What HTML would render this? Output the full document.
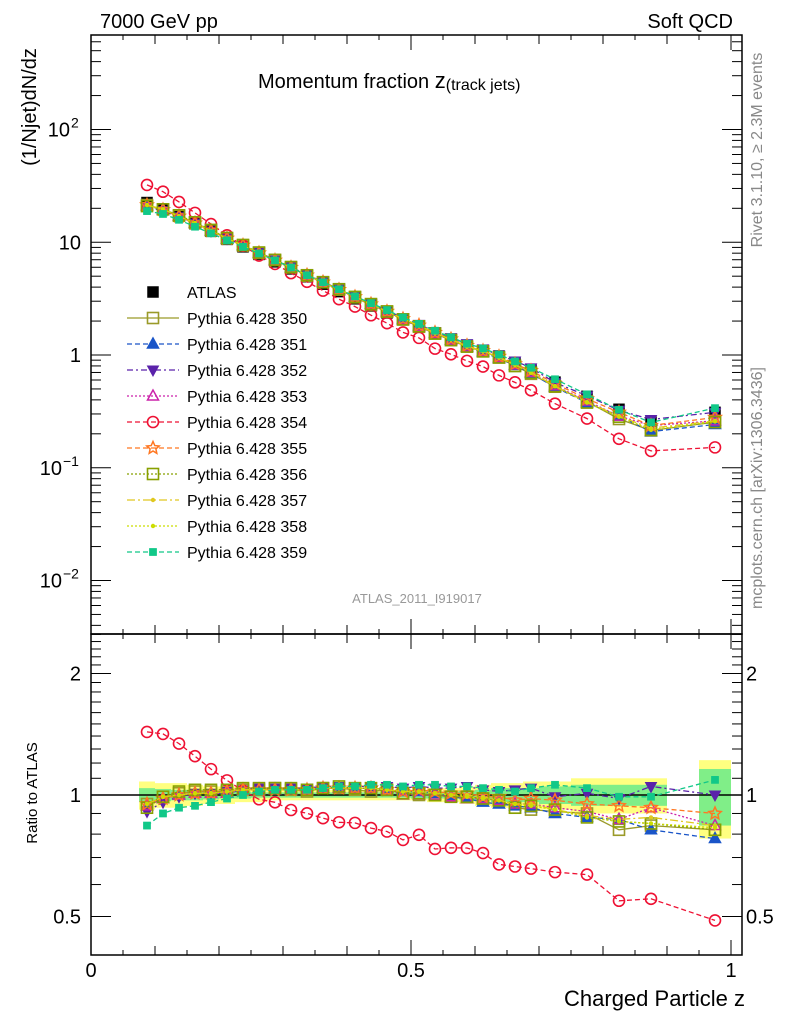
<!DOCTYPE html>
<html><head><meta charset="utf-8">
<style>
html,body{margin:0;padding:0;background:#fff;}
svg{display:block;font-family:"Liberation Sans",Arial,sans-serif;}
</style></head>
<body>
<svg id="chart" width="786" height="1024" viewBox="0 0 786 1024" xmlns="http://www.w3.org/2000/svg">
<defs>
<clipPath id="clipMain"><rect x="91" y="35" width="651" height="599"/></clipPath>
<clipPath id="clipRatio"><rect x="91" y="634" width="651" height="321"/></clipPath>
</defs>
<text x="100" y="28" font-size="20">7000 GeV pp</text>
<text x="733" y="28" font-size="20" text-anchor="end">Soft QCD</text>
<text x="258" y="88" font-size="20">Momentum fraction <tspan font-size="22">z</tspan><tspan font-size="16" dy="2">(track jets)</tspan></text>
<text x="417" y="603" font-size="13" fill="#999" text-anchor="middle">ATLAS_2011_I919017</text>
<text transform="translate(762,150) rotate(-90)" font-size="16" fill="#888" text-anchor="middle">Rivet 3.1.10, ≥ 2.3M events</text>
<text transform="translate(762,488) rotate(-90)" font-size="16" fill="#888" text-anchor="middle">mcplots.cern.ch [arXiv:1306.3436]</text>
<text transform="translate(36,107) rotate(-90)" font-size="20" text-anchor="middle">(1/Njet)dN/dz</text>
<text transform="translate(37,793) rotate(-90)" font-size="15" text-anchor="middle">Ratio to ATLAS</text>
<text x="745" y="1006" font-size="22" text-anchor="end">Charged Particle z</text>
<g id="axes"></g>
<g id="bands" clip-path="url(#clipRatio)"></g>
<g id="mainMarks" clip-path="url(#clipMain)"></g>
<g id="ratioMarks" clip-path="url(#clipRatio)"></g>
<g id="legend"></g>
<rect x="91" y="35" width="651" height="599" fill="none" stroke="#000" stroke-width="1.5"/>
<rect x="91" y="634" width="651" height="321" fill="none" stroke="#000" stroke-width="1.5"/>
</svg>
<script>
const zCenters = [0.0875,0.1125,0.1375,0.1625,0.1875,0.2125,0.2375,0.2625,0.2875,0.3125,0.3375,0.3625,0.3875,0.4125,0.4375,0.4625,0.4875,0.5125,0.5375,0.5625,0.5875,0.6125,0.6375,0.6625,0.6875,0.725,0.775,0.825,0.875,0.975];
const zLo = [0.075,0.1,0.125,0.15,0.175,0.2,0.225,0.25,0.275,0.3,0.325,0.35,0.375,0.4,0.425,0.45,0.475,0.5,0.525,0.55,0.575,0.6,0.625,0.65,0.675,0.7,0.75,0.8,0.85,0.95];
const zHi = [0.1,0.125,0.15,0.175,0.2,0.225,0.25,0.275,0.3,0.325,0.35,0.375,0.4,0.425,0.45,0.475,0.5,0.525,0.55,0.575,0.6,0.625,0.65,0.675,0.7,0.75,0.8,0.85,0.9,1.0];
const atlasValues = [22.5,19.8,17.0,14.6,12.5,10.6,9.1,7.8,6.7,5.8,4.95,4.25,3.65,3.15,2.72,2.36,2.05,1.78,1.55,1.37,1.2,1.1,0.98,0.86,0.74,0.575,0.43,0.33,0.255,0.31];
const yellowHalf = [0.08,0.07,0.07,0.06,0.05,0.05,0.04,0.04,0.03,0.03,0.03,0.03,0.03,0.03,0.03,0.03,0.03,0.03,0.04,0.04,0.05,0.06,0.07,0.07,0.08,0.08,0.1,0.1,0.1,0.22];
const greenHalf = [0.04,0.035,0.03,0.03,0.025,0.02,0.02,0.015,0.015,0.015,0.015,0.015,0.015,0.015,0.015,0.015,0.015,0.02,0.02,0.02,0.025,0.03,0.04,0.04,0.04,0.05,0.06,0.06,0.06,0.16];
const r350 = [0.95,0.99,1.01,1.02,1.02,1.02,1.03,1.03,1.04,1.03,1.02,1.04,1.04,1.03,1.02,1.03,1.01,1.0,1.0,0.99,0.99,0.98,0.97,0.93,0.92,0.91,0.90,0.82,0.84,0.82];
const r351 = [0.94,0.98,1.0,1.01,1.01,1.01,1.03,1.03,1.03,1.03,1.03,1.04,1.04,1.04,1.04,1.03,1.02,1.02,1.01,0.99,0.98,0.96,0.95,0.94,0.93,0.90,0.88,0.87,0.82,0.78];
const r352 = [0.91,0.96,0.99,1.01,1.01,1.02,1.03,1.04,1.04,1.04,1.04,1.05,1.05,1.05,1.05,1.05,1.04,1.05,1.04,1.04,1.05,1.03,1.02,1.03,1.04,0.99,1.01,0.98,1.05,1.0];
const r353 = [0.94,0.98,1.0,1.01,1.01,1.01,1.03,1.03,1.03,1.03,1.03,1.04,1.04,1.04,1.04,1.03,1.0,1.0,1.0,0.99,0.98,0.98,0.97,0.95,0.95,0.93,0.91,0.87,0.93,0.84];
const r354 = [1.433,1.417,1.341,1.248,1.159,1.087,1.025,0.976,0.959,0.918,0.901,0.876,0.856,0.853,0.828,0.812,0.774,0.797,0.735,0.74,0.739,0.718,0.673,0.665,0.657,0.644,0.635,0.547,0.553,0.489];
const r355 = [0.95,0.98,1.0,1.01,1.01,1.02,1.03,1.03,1.03,1.03,1.03,1.04,1.04,1.04,1.04,1.03,1.02,1.03,1.02,1.01,1.01,0.99,0.99,0.97,0.98,0.97,0.95,0.94,0.93,0.9];
const r356 = [0.93,0.99,1.02,1.03,1.03,1.03,1.04,1.04,1.04,1.04,1.03,1.04,1.05,1.04,1.04,1.03,1.01,1.01,1.0,0.99,0.99,0.98,0.97,0.93,0.94,0.92,0.88,0.86,0.85,0.82];
const r357 = [0.95,0.99,1.0,1.01,1.01,1.02,1.03,1.03,1.03,1.03,1.03,1.04,1.04,1.04,1.04,1.03,1.02,1.02,1.01,1.0,1.0,0.99,0.97,0.95,0.95,0.92,0.89,0.87,0.88,0.84];
const r358 = [0.95,0.99,1.0,1.01,1.01,1.02,1.03,1.03,1.03,1.03,1.03,1.04,1.04,1.04,1.04,1.03,1.02,1.02,1.01,1.0,0.99,0.98,0.97,0.95,0.94,0.92,0.88,0.86,0.85,0.83];
const r359 = [0.84,0.9,0.93,0.94,0.96,0.98,1.0,1.02,1.03,1.03,1.03,1.04,1.05,1.05,1.06,1.06,1.05,1.06,1.06,1.05,1.05,1.04,1.03,1.02,1.04,1.06,1.04,0.99,0.99,1.09];
const seriesNames = ["Pythia 6.428 350","Pythia 6.428 351","Pythia 6.428 352","Pythia 6.428 353","Pythia 6.428 354","Pythia 6.428 355","Pythia 6.428 356","Pythia 6.428 357","Pythia 6.428 358","Pythia 6.428 359"];
const seriesRatios = [r350,r351,r352,r353,r354,r355,r356,r357,r358,r359];
const mainTickExps = ["-2","-1","","",""];
const mainTickBases = ["10","10","1","10","10"];
const mainTickSups = ["−2","−1","","","2"];
const ratioTickLabels = ["0.5","1","2"];
const xTickLabels = ["0","0.5","1"];

const styles = [
 {c:"#9a9a28",m:"osq",d:""},
 {c:"#1a55c8",m:"ftri",d:"5,3"},
 {c:"#5a22aa",m:"ftrid",d:"6,3,2,3"},
 {c:"#cc22aa",m:"otri",d:"2,2"},
 {c:"#ee1133",m:"ocirc",d:"5,3"},
 {c:"#ff7722",m:"ostar",d:"5,3"},
 {c:"#88a000",m:"osq",d:"2,2"},
 {c:"#e0c820",m:"dot",d:"8,3,2,3"},
 {c:"#ccdd00",m:"dot",d:"2,2"},
 {c:"#11c888",m:"fsqs",d:"5,3"}
];
const NS="http://www.w3.org/2000/svg";
function xS(z){return 91+640*z;}
function yMain(v){return 355-112.75*Math.log10(v);}
function yRatio(r){return 795-121.5*Math.log2(r);}
function el(tag,attrs,parent){const e=document.createElementNS(NS,tag);for(const k in attrs)e.setAttribute(k,attrs[k]);parent.appendChild(e);return e;}

function marker(g,type,x,y,c){
 let e;
 if(type==="fsq"||type==="osq"||type==="fsqs"){
  const s=type==="fsqs"?3.6:5.5;
  e=el("rect",{x:x-s,y:y-s,width:2*s,height:2*s,fill:type==="osq"?"none":c,stroke:c,"stroke-width":type==="osq"?1.6:0.5},g);
 } else if(type==="ftri"||type==="otri"){
  e=el("polygon",{points:`${x},${y-6} ${x-5.5},${y+4} ${x+5.5},${y+4}`,fill:type==="ftri"?c:"none",stroke:c,"stroke-width":1.5},g);
 } else if(type==="ftrid"){
  e=el("polygon",{points:`${x},${y+6} ${x-5.5},${y-4} ${x+5.5},${y-4}`,fill:c,stroke:c},g);
 } else if(type==="ocirc"){
  e=el("circle",{cx:x,cy:y,r:5.5,fill:"none",stroke:c,"stroke-width":1.6},g);
 } else if(type==="ostar"){
  let p=[];for(let k=0;k<10;k++){const a=-Math.PI/2+k*Math.PI/5;const rr=k%2?3:6.5;p.push((x+rr*Math.cos(a)).toFixed(1)+","+(y+rr*Math.sin(a)).toFixed(1));}
  e=el("polygon",{points:p.join(" "),fill:"none",stroke:c,"stroke-width":1.5},g);
 } else {
  e=el("circle",{cx:x,cy:y,r:2.2,fill:c},g);
 }
 return e;
}

const ax=document.getElementById("axes");
function line(x1,y1,x2,y2,w){return el("line",{x1,y1,x2,y2,stroke:"#000","stroke-width":w||1},ax);}
for(let k=0;k<=20;k++){
 const z=k*0.05, x=xS(z);
 const len = (k%10===0)?15:(k%2===0?9:5);
 line(x,35,x,35+len); line(x,634,x,634-len);
 line(x,634,x,634+len); line(x,955,x,955-len);
}
xTickLabels.forEach((t,i)=>{
 const e=el("text",{x:xS(i*0.5),y:977,"font-size":20,"text-anchor":"middle"},ax);e.textContent=t;
 
 
});
for(let d=-3;d<=2;d++){
 for(let m=1;m<=9;m++){
  const v=m*Math.pow(10,d);const y=yMain(v);
  if(y<35||y>634)continue;
  const len=m===1?20:10;
  line(91,y,91+len,y); line(742,y,742-len,y);
 }
}
mainTickBases.forEach((b,i)=>{
 const v=Math.pow(10,i-2);
 const sup=mainTickSups[i];
 const e=el("text",{x:sup?(sup.length>1?62:70):81,y:yMain(v)+7,"font-size":20,"text-anchor":"end"},ax);e.textContent=b;
 
 
 if(sup){
  const s=el("text",{x:sup.length>1?63:71,y:yMain(v)-2,"font-size":14},ax);s.textContent=sup;
  
  
 }
});
for(let k=5;k<=25;k++){
 const r=k/10;const y=yRatio(r);
 if(y<634||y>955)continue;
 const len=(k===5||k===10||k===20)?20:10;
 line(91,y,91+len,y); line(742,y,742-len,y);
}
ratioTickLabels.forEach((t)=>{
 const r=parseFloat(t);const y=yRatio(r)+7;
 const a=el("text",{x:81,y:y,"font-size":20,"text-anchor":"end"},ax);a.textContent=t;
 
 
 const b=el("text",{x:746,y:y,"font-size":20},ax);b.textContent=t;
 
 
});

const bg=document.getElementById("bands");
zCenters.forEach((z,i)=>{
 const x1=xS(zLo[i]),x2=xS(zHi[i]);
 const y1=yRatio(1+yellowHalf[i]),y2=yRatio(1-yellowHalf[i]);
 const b=el("rect",{x:x1,y:y1,width:x2-x1,height:y2-y1,fill:"#ffff80"},bg);
 
 
 const g1=yRatio(1+greenHalf[i]),g2=yRatio(1-greenHalf[i]);
 const s=el("rect",{x:x1,y:g1,width:x2-x1,height:g2-g1,fill:"#80ee88"},bg);
 
 
});
const one=el("line",{x1:91,y1:yRatio(1),x2:742,y2:yRatio(1),stroke:"#000","stroke-width":1.5},bg);



const mg=document.getElementById("mainMarks");
const rg=document.getElementById("ratioMarks");
zCenters.forEach((z,i)=>{
 const m=marker(mg,"fsq",xS(z),yMain(atlasValues[i]),"#000");
 
 
});
seriesRatios.forEach((rs,si)=>{
 const st=styles[si];
 const pm=zCenters.map((z,i)=>xS(z).toFixed(1)+","+yMain(atlasValues[i]*rs[i]).toFixed(1)).join(" ");
 const pl=el("polyline",{points:pm,fill:"none",stroke:st.c,"stroke-width":1.3,"stroke-dasharray":st.d},mg);
 
 
 const pr=zCenters.map((z,i)=>xS(z).toFixed(1)+","+yRatio(rs[i]).toFixed(1)).join(" ");
 const pl2=el("polyline",{points:pr,fill:"none",stroke:st.c,"stroke-width":1.3,"stroke-dasharray":st.d},rg);
 
 
 zCenters.forEach((z,i)=>{
  const a=marker(mg,st.m,xS(z),yMain(atlasValues[i]*rs[i]),st.c);
  
  
  const b=marker(rg,st.m,xS(z),yRatio(rs[i]),st.c);
  
  
 });
});

const lg=document.getElementById("legend");
const la=marker(lg,"fsq",153,292,"#000");


const lt=el("text",{x:187,y:298,"font-size":16},lg);lt.textContent="ATLAS";


seriesNames.forEach((n,si)=>{
 const y=318+26*si;const st=styles[si];
 const l=el("line",{x1:127,y1:y,x2:179,y2:y,stroke:st.c,"stroke-width":1.3,"stroke-dasharray":st.d},lg);
 
 
 const mk=marker(lg,st.m,153,y,st.c);
 
 
 const t=el("text",{x:187,y:y+6,"font-size":16},lg);t.textContent=n;
 
 
});
</script>
</body></html>
